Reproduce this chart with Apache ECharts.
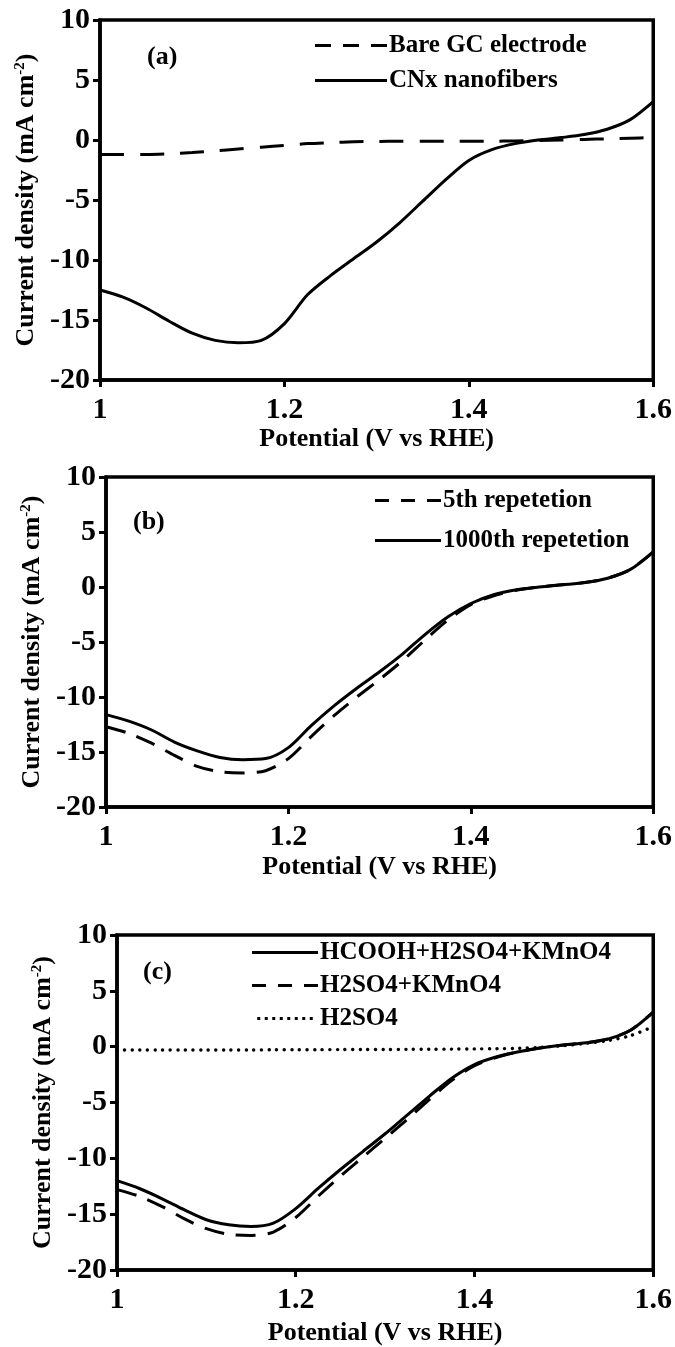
<!DOCTYPE html>
<html>
<head>
<meta charset="utf-8">
<script src="https://cdn.jsdelivr.net/npm/echarts@6/dist/echarts.min.js"></script>
<style>
html,body{margin:0;padding:0;background:#fff;}
#chart{width:675px;height:1347px;}
</style>
</head>
<body>
<div id="chart"></div>
<script>
// ---- Data ----
const potential = [1.000,1.025,1.050,1.075,1.100,1.125,1.150,1.175,1.200,1.225,1.250,1.275,1.300,1.325,1.350,1.375,1.400,1.425,1.450,1.475,1.500,1.525,1.550,1.575,1.600];

// Panel (a)
const bareGC = [-1.2,-1.2,-1.2,-1.15,-1.05,-0.9,-0.75,-0.6,-0.45,-0.3,-0.22,-0.15,-0.12,-0.1,-0.1,-0.1,-0.1,-0.1,-0.08,-0.05,0.0,0.05,0.1,0.15,0.2];
const cnxNanofibers = [-12.5,-13.1,-14.0,-15.1,-16.1,-16.7,-16.9,-16.7,-15.3,-12.9,-11.3,-9.9,-8.5,-6.9,-5.1,-3.3,-1.7,-0.8,-0.3,0.0,0.2,0.45,0.9,1.7,3.2];

// Panel (b)
const rep5th = [-12.7,-13.3,-14.2,-15.3,-16.3,-16.8,-16.9,-16.7,-15.6,-13.6,-11.7,-10.0,-8.4,-6.7,-4.8,-3.0,-1.6,-0.8,-0.3,0.0,0.2,0.4,0.8,1.6,3.2];
const rep1000th = [-11.6,-12.2,-13.0,-14.1,-14.9,-15.5,-15.7,-15.6,-14.6,-12.6,-10.8,-9.2,-7.7,-6.1,-4.3,-2.7,-1.5,-0.7,-0.25,0.0,0.2,0.4,0.8,1.6,3.2];

// Panel (c)
const hcoohMix = [-12.0,-12.7,-13.6,-14.6,-15.5,-15.95,-16.1,-15.8,-14.5,-12.7,-11.0,-9.4,-7.8,-6.1,-4.4,-2.8,-1.6,-0.9,-0.45,-0.1,0.15,0.35,0.7,1.5,3.1];
const h2so4Kmno4 = [-12.8,-13.4,-14.3,-15.4,-16.3,-16.8,-16.9,-16.6,-15.3,-13.4,-11.6,-9.9,-8.2,-6.5,-4.7,-3.0,-1.7,-0.95,-0.45,-0.1,0.15,0.35,0.7,1.5,3.1];
const h2so4 = [-0.3,-0.3,-0.3,-0.3,-0.3,-0.3,-0.3,-0.28,-0.28,-0.27,-0.26,-0.25,-0.25,-0.24,-0.23,-0.22,-0.2,-0.18,-0.15,-0.05,0.1,0.3,0.55,1.0,1.8];

const xTicks = [1, 1.2, 1.4, 1.6];
const yTicks = [-20, -15, -10, -5, 0, 5, 10];

const panelLabels = ['(a)', '(b)', '(c)'];
const legendNames = [
  ['Bare GC electrode', 'CNx nanofibers'],
  ['5th repetetion', '1000th repetetion'],
  ['HCOOH+H2SO4+KMnO4', 'H2SO4+KMnO4', 'H2SO4']
];

// ---- Chart ----
const FONT = '"Liberation Serif", "Times New Roman", serif';
const grids = [
  {left: 100, top: 20, width: 556, height: 360},
  {left: 106, top: 477, width: 549, height: 330},
  {left: 117, top: 935, width: 538, height: 335}
];
const yNameGap = [57, 56, 57];
const xNameGap = [42, 47, 50];

function pairs(ys){ return potential.map((x,i)=>[x, ys[i]]); }

const DASH_A = [24, 16];
const DASH_BC = [20, 12];
const DOT = [0.1, 7.5];
const LW = 3;
const AXW = 3.5;
const TICK_FS = 30;
const NAME_FS = 26;
const LEG_FS = 25;

// legend icon shapes
function solidIcon(w){ return 'path://M0,0h' + w + 'v3h-' + w + 'z'; }
function dashIcon(w){
  const d = (w - 24) / 3;
  return 'path://M0,0h' + d + 'v3h-' + d + 'z M' + (d + 12) + ',0h' + d + 'v3h-' + d + 'z M' + (2 * d + 24) + ',0h' + d + 'v3h-' + d + 'z';
}
function dotIcon(n, step){
  let p = 'path://';
  for (let i = 0; i < n; i++) { p += 'M' + (i * step) + ',0h3v3h-3z '; }
  return p;
}

const legendCommon = {
  orient: 'vertical', itemHeight: 3, padding: 5,
  textStyle: {fontFamily: FONT, fontWeight: 'bold', fontSize: LEG_FS, color: '#000', padding: [0,0,0,-3]}
};

const option = {
  animation: false,
  backgroundColor: '#fff',
  textStyle: {fontFamily: FONT},
  grid: grids.map(g => Object.assign({show: true, borderColor: '#000', borderWidth: AXW, backgroundColor: 'transparent'}, g)),
  xAxis: grids.map((g,i) => ({
    type: 'value', gridIndex: i, min: xTicks[0], max: xTicks[xTicks.length-1], interval: 0.2,
    name: 'Potential (V vs RHE)', nameLocation: 'middle', nameGap: xNameGap[i],
    nameTextStyle: {fontFamily: FONT, fontWeight: 'bold', fontSize: NAME_FS, color: '#000'},
    axisLine: {show: true, onZero: false, lineStyle: {color: '#000', width: AXW}},
    axisTick: {show: true, inside: false, length: 7, lineStyle: {color: '#000', width: 3}},
    axisLabel: {fontFamily: FONT, fontWeight: 'bold', fontSize: TICK_FS, color: '#000', margin: 15},
    splitLine: {show: false}
  })),
  yAxis: grids.map((g,i) => ({
    type: 'value', gridIndex: i, min: yTicks[0], max: yTicks[yTicks.length-1], interval: 5,
    name: 'Current density (mA cm{sup|-2})', nameLocation: 'middle', nameGap: yNameGap[i], nameRotate: 90,
    nameTextStyle: {fontFamily: FONT, fontWeight: 'bold', fontSize: NAME_FS, color: '#000',
      rich: {sup: {fontFamily: FONT, fontWeight: 'bold', fontSize: 15, color: '#000', verticalAlign: 'top', padding: [0,0,10,0]}}},
    axisLine: {show: true, onZero: false, lineStyle: {color: '#000', width: AXW}},
    axisTick: {show: true, inside: false, length: 7, lineStyle: {color: '#000', width: 3}},
    axisLabel: {fontFamily: FONT, fontWeight: 'bold', fontSize: TICK_FS, color: '#000', margin: 10},
    splitLine: {show: false}
  })),
  title: panelLabels.map((t,i) => ({
    text: t, left: [147, 133, 143][i], top: [44, 509, 959][i], padding: 0,
    textStyle: {fontFamily: FONT, fontWeight: 'bold', fontSize: 26, color: '#000'}
  })),
  legend: [
    Object.assign({}, legendCommon, {
      data: [{name: legendNames[0][0], icon: dashIcon(72)}, {name: legendNames[0][1], icon: solidIcon(72)}],
      left: 310, top: 28, itemWidth: 72, itemGap: 10}),
    Object.assign({}, legendCommon, {
      data: [{name: legendNames[1][0], icon: dashIcon(66)}, {name: legendNames[1][1], icon: solidIcon(66)}],
      left: 370, top: 483, itemWidth: 66, itemGap: 15}),
    Object.assign({}, legendCommon, {
      data: [{name: legendNames[2][0], icon: solidIcon(66)}, {name: legendNames[2][1], icon: dashIcon(66)},
             {name: legendNames[2][2], icon: dotIcon(8, 7.5)}],
      left: 247, top: 935, itemWidth: 66, itemGap: 8})
  ],
  series: [
    {name: legendNames[0][0], type: 'line', xAxisIndex: 0, yAxisIndex: 0, data: pairs(bareGC), smooth: 0.3, symbol: 'none',
     lineStyle: {color: '#000', width: LW, type: DASH_A}, itemStyle: {color: '#000'}},
    {name: legendNames[0][1], type: 'line', xAxisIndex: 0, yAxisIndex: 0, data: pairs(cnxNanofibers), smooth: 0.3, symbol: 'none',
     lineStyle: {color: '#000', width: LW, type: 'solid'}, itemStyle: {color: '#000'}},
    {name: legendNames[1][0], type: 'line', xAxisIndex: 1, yAxisIndex: 1, data: pairs(rep5th), smooth: 0.3, symbol: 'none',
     lineStyle: {color: '#000', width: LW, type: DASH_BC}, itemStyle: {color: '#000'}},
    {name: legendNames[1][1], type: 'line', xAxisIndex: 1, yAxisIndex: 1, data: pairs(rep1000th), smooth: 0.3, symbol: 'none',
     lineStyle: {color: '#000', width: LW, type: 'solid'}, itemStyle: {color: '#000'}},
    {name: legendNames[2][0], type: 'line', xAxisIndex: 2, yAxisIndex: 2, data: pairs(hcoohMix), smooth: 0.3, symbol: 'none',
     lineStyle: {color: '#000', width: LW, type: 'solid'}, itemStyle: {color: '#000'}},
    {name: legendNames[2][1], type: 'line', xAxisIndex: 2, yAxisIndex: 2, data: pairs(h2so4Kmno4), smooth: 0.3, symbol: 'none',
     lineStyle: {color: '#000', width: LW, type: DASH_BC}, itemStyle: {color: '#000'}},
    {name: legendNames[2][2], type: 'line', xAxisIndex: 2, yAxisIndex: 2, data: pairs(h2so4), smooth: 0.3, symbol: 'none',
     lineStyle: {color: '#000', width: 3.4, type: DOT, cap: 'round'}, itemStyle: {color: '#000'}}
  ]
};

const chart = echarts.init(document.getElementById('chart'), null, {renderer: 'canvas'});
chart.setOption(option);
</script>
</body>
</html>
